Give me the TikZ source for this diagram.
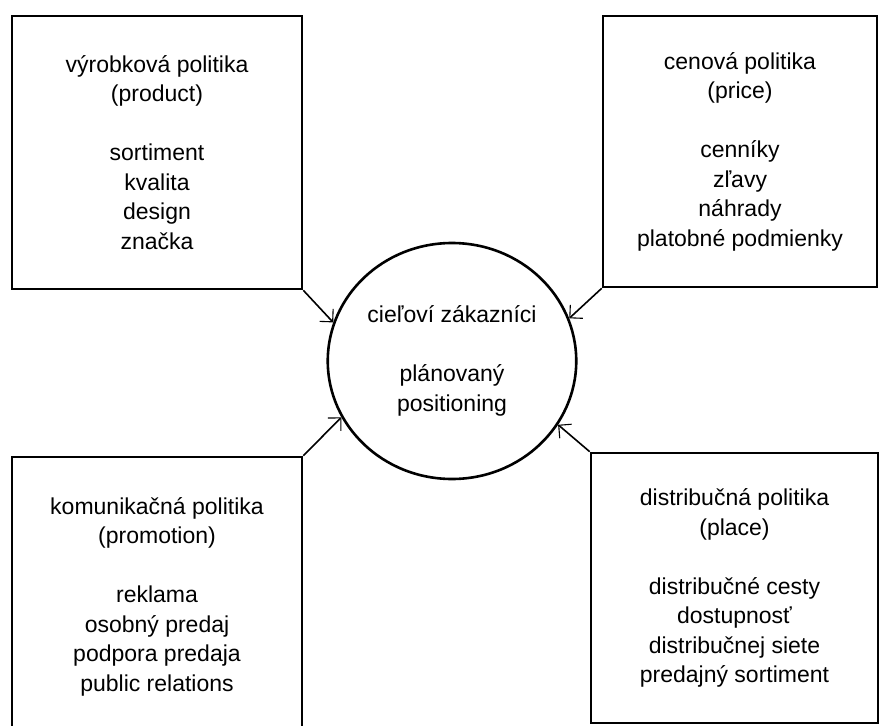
\documentclass[tikz,border=0pt]{standalone}
\usepackage{amsmath}
\usepackage{xcolor}
\usepackage{fontspec}
\setmainfont{Liberation Sans}
\usepackage{tikz}
\usetikzlibrary{shapes.geometric,arrows.meta}

\begin{document}
\begin{tikzpicture}[x=1pt,y=-1pt]
\tikzstyle{policy} = [draw, line width=2.6pt, align=center, inner sep=0pt, font=\fontsize{23}{29.5}\selectfont]
\tikzstyle{goal} = [draw, ellipse, line width=2.6pt, align=center, minimum width=245pt, minimum height=236pt, font=\fontsize{23}{29.5}\selectfont]
\tikzstyle{arr} = [line width=1.6pt, -{Straight Barb[angle=90:13pt, line width=1.1pt]}]
%
\useasboundingbox (0,0) rectangle (880,725);
\clip (0,0) rectangle (880,725);

	\node[policy, minimum width=290pt, minimum height=273pt] (vyrobok) at (157,152.5)
		{výrobková politika\\(product)\\[29.5pt]sortiment\\kvalita\\design\\značka};
	\node[policy, minimum width=274pt, minimum height=271pt] (cena) at (740,151.5)
		{cenová politika\\(price)\\[29.5pt]cenníky\\zľavy\\náhrady\\platobné podmienky};
	\node[policy, minimum width=290pt, minimum height=279pt] (komunikacia) at (157,596.5)
		{komunikačná politika\\(promotion)\\[29.5pt]reklama\\osobný predaj\\podpora predaja\\public relations};
	\node[policy, minimum width=287pt, minimum height=270pt] (distribucia) at (734.5,588)
		{distribučná politika\\(place)\\[29.5pt]distribučné cesty\\dostupnosť\\distribučnej siete\\predajný sortiment};

	\node[goal] (ciel) at (452,361) {cieľoví zákazníci\\[29.5pt]plánovaný\\positioning};

	% sipky do stredu
	\draw[arr] (vyrobok.south east) -- (ciel.162);
	\draw[arr] (cena.south west) -- (ciel.20);
	\draw[arr] (komunikacia.north east) -- (ciel.207);
	\draw[arr] (distribucia.north west) -- (ciel.329);
\end{tikzpicture}
\end{document}
